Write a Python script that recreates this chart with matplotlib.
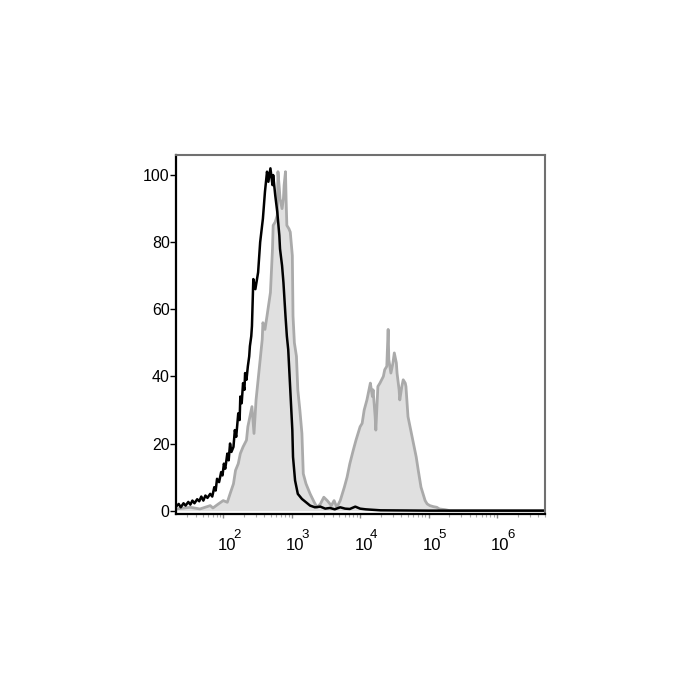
import matplotlib
matplotlib.use('Agg')

import numpy as np
import matplotlib.pyplot as plt
import matplotlib.transforms as mtransforms
from matplotlib.ticker import LogLocator, NullFormatter

plt.rcParams['font.family'] = ['Liberation Sans', 'DejaVu Sans']

# unstained / isotype control (black), log10 of intensity and % of max
black_log = [1.31, 1.35, 1.38, 1.42, 1.45, 1.49, 1.52, 1.55, 1.58, 1.62,
             1.65, 1.68, 1.71, 1.74, 1.77, 1.81, 1.84, 1.87, 1.89, 1.91,
             1.94, 1.97, 1.99, 2.01, 2.03, 2.06, 2.08, 2.10, 2.12, 2.15,
             2.17, 2.19, 2.22, 2.24, 2.25, 2.27, 2.29, 2.31, 2.32, 2.34,
             2.36, 2.38, 2.39, 2.41, 2.42, 2.44, 2.47, 2.51, 2.54, 2.58,
             2.61, 2.64, 2.66, 2.69, 2.72, 2.73, 2.76, 2.79, 2.82, 2.83,
             2.86, 2.88, 2.91, 2.93, 2.95, 2.98, 3.01, 3.02, 3.05, 3.09,
             3.15, 3.21, 3.27, 3.34, 3.42, 3.49, 3.56, 3.63, 3.71, 3.78,
             3.85, 3.93, 4.00, 4.08, 4.15, 4.30, 5.00, 6.70]
black_pct = [1.2, 2.0, 1.0, 2.2, 1.5, 2.6, 1.8, 3.0, 2.2, 3.4,
             2.8, 4.2, 3.0, 4.5, 3.8, 5.0, 4.2, 7.0, 6.0, 9.5,
             8.5, 11.5, 10.5, 14, 12.5, 17, 15, 20, 17.5, 19,
             24, 22, 29, 27, 34, 32, 38, 36, 41, 39,
             43, 46, 49, 52, 55, 69, 66, 71, 80, 87,
             95, 101, 98, 102, 97, 100, 94, 89, 82, 78,
             73, 68, 58, 52, 48, 36, 24, 16, 9, 5,
             3.5, 2.5, 1.5, 1.0, 1.2, 0.6, 0.8, 0.4, 1.0, 0.6,
             0.5, 1.2, 0.6, 0.4, 0.3, 0.1, 0.0, 0.0]

# stained sample (grey filled)
grey_log = [1.31, 1.52, 1.66, 1.81, 1.85, 1.93, 2.00, 2.06, 2.10, 2.15,
            2.18, 2.22, 2.25, 2.29, 2.34, 2.36, 2.39, 2.42, 2.45, 2.48,
            2.51, 2.54, 2.57, 2.58, 2.61, 2.64, 2.69, 2.72, 2.73, 2.76,
            2.79, 2.80, 2.82, 2.83, 2.86, 2.88, 2.89, 2.91, 2.92, 2.93,
            2.96, 2.98, 3.01, 3.02, 3.04, 3.07, 3.09, 3.12, 3.15, 3.17,
            3.21, 3.27, 3.33, 3.37, 3.42, 3.47, 3.52, 3.58, 3.62, 3.66,
            3.71, 3.77, 3.81, 3.85, 3.90, 3.94, 3.97, 4.00, 4.03, 4.06,
            4.10, 4.13, 4.15, 4.18, 4.19, 4.22, 4.23, 4.26, 4.29, 4.34,
            4.36, 4.39, 4.41, 4.42, 4.45, 4.48, 4.50, 4.53, 4.54, 4.57,
            4.58, 4.61, 4.63, 4.66, 4.67, 4.70, 4.73, 4.77, 4.82, 4.85,
            4.89, 4.92, 4.95, 4.98, 5.02, 5.07, 5.12, 5.16, 5.24, 5.31,
            6.70]
grey_pct = [0.5, 1.0, 0.5, 1.5, 0.8, 2.0, 3.0, 2.5, 5, 8,
            12, 14, 17, 19, 21, 25, 28, 31, 23, 33,
            39, 45, 51, 56, 54, 58, 65, 78, 85, 86,
            88, 101, 96, 93, 90, 93, 97, 101, 92, 85,
            84, 83, 76, 58, 50, 46, 36, 30, 23, 11,
            8, 5, 2.5, 1, 2, 4, 3, 1.5, 3, 1,
            3, 7, 10, 14, 18, 21, 23, 25, 26, 30,
            33, 36, 38, 34, 36, 28, 24, 37, 38, 40,
            42, 43, 54, 45, 41, 44, 47, 44, 41, 36,
            33, 37, 39, 38, 37, 28, 25, 21, 16, 12,
            7, 5, 3, 2, 1.5, 1.2, 1, 0.5, 0.3, 0,
            0]

decades = [2, 3, 4, 5, 6]

xb = 10 ** np.array(black_log)
xg = 10 ** np.array(grey_log)

fig = plt.figure(figsize=(7, 7), dpi=100)
ax = fig.add_axes([0.2514, 0.2657, 0.527, 0.513])

ax.fill_between(xg, grey_pct, 0, color='#e0e0e0', lw=0)
ax.plot(xg, grey_pct, color='#aaaaaa', lw=2)
ax.plot(xb, black_pct, color='black', lw=1.8)

ax.set_xscale('log')
ax.set_xlim(10 ** 1.31, 10 ** 6.70)
ax.set_ylim(-1, 106)

ax.set_yticks([0, 20, 40, 60, 80, 100])
ax.set_yticklabels(['0', '20', '40', '60', '80', '100'])
ax.tick_params(axis='y', direction='out', length=4, width=1, pad=0.5,
               labelsize=11.5, color='black')

# x labels: "10" with a large raised exponent, as in the cytometer export
ax.set_xticks([10.0 ** k for k in decades])
ax.set_xticklabels([])
ax.xaxis.set_minor_locator(LogLocator(base=10, subs=np.arange(2, 10), numticks=20))
ax.xaxis.set_minor_formatter(NullFormatter())
ax.tick_params(axis='x', which='major', direction='out', length=3, width=1,
               color='#888888')
ax.tick_params(axis='x', which='minor', direction='out', length=2, width=0.8,
               color='#aaaaaa')

base = mtransforms.blended_transform_factory(ax.transData, ax.transAxes)
for k in decades:
    t_base = base + mtransforms.ScaledTranslation(0.035, -0.36, fig.dpi_scale_trans)
    t_exp = base + mtransforms.ScaledTranslation(0.10, -0.24, fig.dpi_scale_trans)
    ax.text(10.0 ** k, 0, '10', transform=t_base, ha='center', va='baseline',
            fontsize=12)
    ax.text(10.0 ** k, 0, str(k), transform=t_exp, ha='left', va='baseline',
            fontsize=9.5)

for side in ['left', 'bottom']:
    ax.spines[side].set_color('black')
    ax.spines[side].set_linewidth(1.6)
for side in ['top', 'right']:
    ax.spines[side].set_color('#707070')
    ax.spines[side].set_linewidth(1.5)

fig.savefig('out.png', dpi=100)
